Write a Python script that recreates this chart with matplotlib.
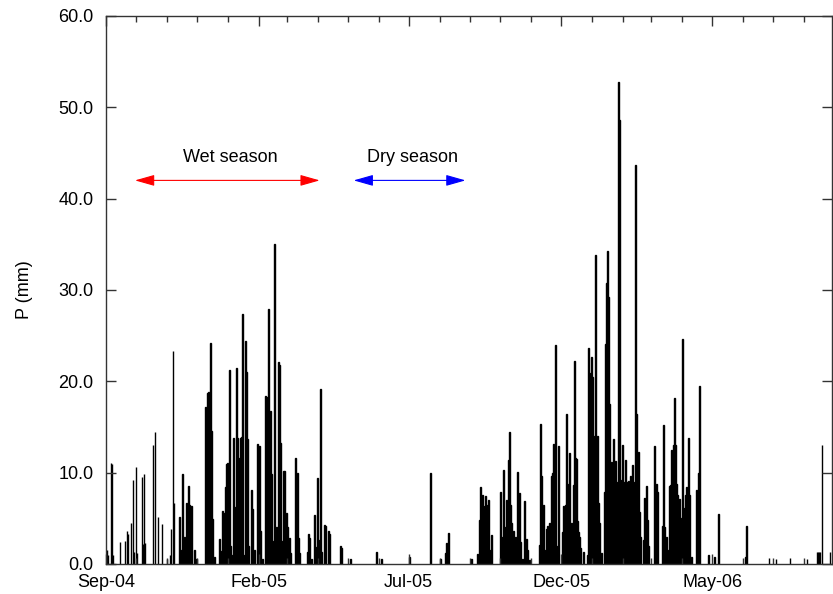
import numpy as np
import pandas as pd
import matplotlib
matplotlib.use('Agg')
import matplotlib.pyplot as plt
import matplotlib.dates as mdates

plt.rcParams['font.family'] = ['Liberation Sans', 'DejaVu Sans']

# Daily rainfall (day offset from 1 Sep 2004, mm)
start = pd.Timestamp('2004-09-01')
days = [1, 2, 5, 6, 7, 14, 19, 21, 22, 25, 27, 28, 30, 31, 36, 37, 38, 39,
        47, 49, 52, 56, 61, 64, 65, 67, 68, 74, 75, 77, 78, 79, 81, 82, 83, 84, 86, 89, 91,
        100, 102, 103, 105, 106, 107, 109, 114, 116, 117, 118, 120, 121, 122, 124, 125, 126,
        128, 130, 131, 132, 133, 135, 136, 137, 138, 140, 141, 142, 143, 146, 147, 149, 152,
        154, 155, 157, 160, 161, 163, 164, 165, 166, 168, 169, 171, 173, 174, 175, 176, 178,
        179, 181, 182, 184, 185, 190, 192, 193, 194, 202, 203, 204, 206, 209, 210, 212, 213,
        215, 216, 219, 220, 223, 224, 235, 236, 245, 271, 276, 304,
        325, 335, 340, 341, 343, 366, 372, 374, 375, 377, 378, 380, 381, 383, 384, 386,
        395, 397, 398, 400, 401, 403, 404, 405, 406, 408, 410, 411, 412, 414, 415, 417, 419,
        421, 422, 424, 434, 435, 436, 438, 439, 441, 442, 444, 446, 447, 448, 450, 451, 453,
        457, 458, 460, 461, 462, 463, 464, 465, 466, 468, 469, 470, 471, 472, 473, 474, 475,
        478, 482, 483, 484, 485, 486, 487, 488, 489, 490, 491, 492, 493, 494, 496,
        499, 500, 501, 502, 503, 504, 505, 506, 507, 508, 509, 510, 511, 512, 513, 514, 515,
        516, 517, 518, 519, 520, 521, 522, 523, 524, 525, 526, 527, 528, 529, 530, 531, 532,
        533, 534, 535, 538, 539, 541, 542, 543, 549, 550, 551, 552, 557, 558, 559, 560, 561,
        563, 564, 565, 566, 567, 568, 569, 570, 571, 572, 573, 574, 575, 577, 578, 579, 580,
        581, 582, 583, 584, 586, 591, 593, 594, 603, 609, 613, 640, 641, 664, 671, 685, 702,
        712, 713, 714, 715, 717, 725]
rain = [1.5, 1.0, 11.1, 11.0, 1.0, 2.4, 2.5, 3.6, 3.3, 4.5, 9.2, 1.3, 10.6, 1.2, 9.5, 2.2, 9.9, 2.3,
        13.0, 14.4, 5.1, 4.4, 0.5, 1.0, 3.8, 23.3, 6.7, 5.2, 1.5, 9.9, 1.7, 3.0, 6.7, 6.5, 8.5, 6.5, 6.3, 1.5, 0.5,
        17.2, 18.7, 18.8, 24.2, 14.6, 4.9, 0.8, 2.7, 1.4, 5.8, 5.6, 8.4, 11.0, 11.1, 21.2, 2.0, 1.0,
        13.8, 6.2, 21.5, 13.8, 11.6, 13.8, 13.9, 27.4, 1.0, 24.4, 21.0, 13.7, 2.0, 8.1, 6.0, 1.5, 13.1,
        12.9, 3.6, 0.5, 18.4, 18.3, 27.9, 13.8, 16.7, 9.8, 2.5, 35.0, 4.0, 22.1, 21.8, 13.3, 2.5, 10.2,
        10.2, 5.6, 4.0, 2.8, 1.2, 11.6, 10.0, 2.8, 1.2, 1.3, 3.3, 2.8, 0.5, 5.4, 1.9, 9.4, 2.6,
        19.2, 1.3, 4.3, 4.2, 3.6, 3.3, 2.0, 1.7, 0.5, 1.3, 0.5, 0.8,
        10.0, 0.5, 1.2, 2.3, 3.4, 0.5, 1.1, 4.8, 8.4, 7.6, 6.3, 7.5, 6.5, 7.0, 1.5, 3.2,
        7.9, 3.0, 10.3, 4.1, 7.0, 11.4, 14.4, 6.5, 4.5, 3.6, 3.0, 2.7, 10.1, 7.8, 2.4, 0.5, 6.9,
        2.7, 1.5, 0.4, 2.1, 15.3, 9.6, 6.5, 1.5, 3.8, 4.2, 4.5, 9.6, 10.0, 13.1, 24.0, 2.0, 12.9,
        3.5, 6.3, 6.5, 16.4, 4.0, 8.8, 12.2, 2.0, 4.5, 8.6, 22.2, 11.6, 11.5, 4.7, 3.5, 3.0, 1.8,
        1.3, 1.0, 23.7, 20.0, 20.9, 22.7, 20.5, 4.0, 14.0, 33.8, 4.1, 14.0, 6.7, 4.5, 1.2,
        7.9, 24.1, 30.8, 34.3, 29.2, 17.5, 9.2, 11.2, 9.0, 13.7, 9.3, 11.3, 9.0, 8.9, 52.8, 48.6, 9.0,
        9.2, 13.0, 9.0, 8.8, 11.4, 9.0, 8.9, 9.1, 8.8, 9.6, 9.0, 10.8, 8.5, 9.0, 43.7, 16.4, 9.0,
        12.3, 5.7, 3.0, 2.6, 7.2, 8.5, 4.8, 2.0, 12.9, 7.5, 8.8, 7.9, 4.2, 15.2, 4.0, 2.5, 3.0,
        1.5, 8.5, 8.7, 12.5, 12.3, 13.0, 18.2, 13.0, 8.8, 7.6, 6.0, 7.1, 5.0, 24.6, 5.0, 6.1, 7.6,
        8.4, 3.5, 13.8, 7.6, 0.8, 8.1, 10.0, 19.5, 1.0, 0.8, 5.5, 0.8, 4.2, 0.7, 0.5, 0.7, 0.5,
        1.3, 1.3, 1.3, 1.3, 13.0, 1.3]

dates = start + pd.to_timedelta(days, unit='D')

fig = plt.figure(figsize=(8.33, 5.94), dpi=100)
ax = fig.add_axes([106 / 833, 30 / 594, 726 / 833, 548 / 594])

# outline keeps the 1-px wide bars from vanishing when rasterised
ax.bar(dates, rain, width=0.8, color='black', edgecolor='black', linewidth=1.0)

ax.set_xlim(start, start + pd.Timedelta(days=727))
ax.set_ylim(0, 60)
ax.set_yticks(np.arange(0, 61, 10))
ax.yaxis.set_major_formatter(matplotlib.ticker.FormatStrFormatter('%.1f'))
ticks = pd.date_range('2004-09-01', '2006-08-01', freq='5MS')
ax.set_xticks(ticks)
ax.xaxis.set_major_formatter(mdates.DateFormatter('%b-%y'))
ax.xaxis.set_minor_locator(mdates.MonthLocator())

ax.tick_params(axis='both', which='both', direction='in', top=True, right=True,
               labelsize=13, colors='#333333', labelcolor='black')
ax.tick_params(axis='both', which='major', length=7, width=1)
ax.tick_params(axis='x', which='minor', length=4, width=1)
ax.tick_params(axis='x', which='major', pad=7)
ax.tick_params(axis='y', which='major', pad=9)
for s in ax.spines.values():
    s.set_color('#333333')
    s.set_linewidth(1)

ax.set_ylabel('P (mm)', fontsize=13, labelpad=18)

# season arrows
arrow = '<|-|>,head_length=0.6,head_width=0.17'
ax.annotate('', xy=(start + pd.Timedelta(days=29), 42), xytext=(start + pd.Timedelta(days=214), 42),
            arrowprops=dict(arrowstyle=arrow, color='red', lw=0.8, mutation_scale=20,
                            shrinkA=0, shrinkB=0))
ax.text(start + pd.Timedelta(days=124), 44.5, 'Wet season', ha='center', va='center', fontsize=13)
ax.annotate('', xy=(start + pd.Timedelta(days=248), 42), xytext=(start + pd.Timedelta(days=360), 42),
            arrowprops=dict(arrowstyle=arrow, color='blue', lw=0.8, mutation_scale=20,
                            shrinkA=0, shrinkB=0))
ax.text(start + pd.Timedelta(days=307), 44.5, 'Dry season', ha='center', va='center', fontsize=13)

fig.savefig('out.png', dpi=100)
